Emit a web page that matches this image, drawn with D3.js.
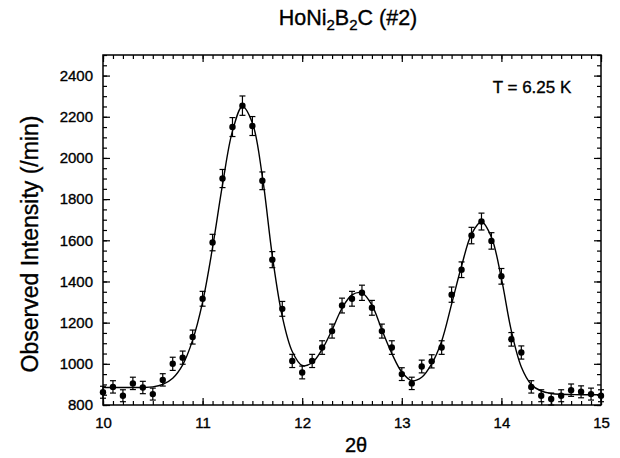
<!DOCTYPE html>
<html>
<head>
<meta charset="utf-8">
<script src="https://cdn.jsdelivr.net/npm/d3@7"></script>
<style>
  body { margin: 0; background: #fff; }
  svg { font-family: "Liberation Sans", Arial, Helvetica, sans-serif; }
  svg text { fill: #000; stroke: #000; stroke-width: 0.35px; }
  .axis text { font-size: 15px; }
  .axis line { stroke: #000; stroke-width: 1.2; }
</style>
</head>
<body>
<svg id="chart" width="620" height="458"></svg>
<script>
// measured 2-theta positions
var twoTheta = [10.0, 10.1, 10.2, 10.3, 10.4, 10.5, 10.6, 10.7, 10.8, 10.9,
  11.0, 11.1, 11.2, 11.3, 11.4, 11.5, 11.6, 11.7, 11.8, 11.9,
  12.0, 12.1, 12.2, 12.3, 12.4, 12.5, 12.6, 12.7, 12.8, 12.9,
  13.0, 13.1, 13.2, 13.3, 13.4, 13.5, 13.6, 13.7, 13.8, 13.9,
  14.0, 14.1, 14.2, 14.3, 14.4, 14.5, 14.6, 14.7, 14.8, 14.9, 15.0];
// observed intensity (/min)
var observed = [862, 888, 845, 905, 885, 853, 922, 1000, 1030, 1130,
  1316, 1589, 1900, 2150, 2254, 2155, 1889, 1506, 1267, 1014,
  958, 1014, 1079, 1159, 1283, 1316, 1345, 1272, 1159, 1079,
  950, 905, 987, 1012, 1079, 1336, 1457, 1623, 1691, 1597,
  1425, 1119, 1055, 888, 845, 829, 845, 872, 864, 853, 845];
// error bar half heights
var errors = [29, 30, 29, 30, 30, 29, 30, 32, 32, 34,
  36, 40, 44, 46, 47, 46, 43, 39, 36, 32,
  31, 32, 33, 34, 36, 36, 37, 36, 34, 33,
  31, 30, 31, 32, 33, 37, 38, 40, 41, 40,
  38, 33, 32, 30, 29, 29, 29, 30, 29, 29, 29];
// fitted curve, read at the same 2-theta positions
var fitted = [885, 885, 885, 885, 885, 888, 900, 930, 995, 1115,
  1300, 1565, 1870, 2130, 2250, 2170, 1910, 1525, 1230, 1060,
  992, 1005, 1070, 1165, 1270, 1335, 1345, 1285, 1165, 1050,
  960, 918, 935, 1000, 1110, 1290, 1475, 1630, 1690, 1615,
  1415, 1160, 985, 900, 868, 856, 852, 851, 850, 850, 850];

var xTicks = [10, 11, 12, 13, 14, 15];
var yTicks = [800, 1000, 1200, 1400, 1600, 1800, 2000, 2200, 2400];

var svg = d3.select("#chart");
var pL = 103, pR = 601, pT = 55, pB = 405;

var x = d3.scaleLinear().domain([10, 15]).range([pL, pR]);
var y = d3.scaleLinear().domain([800, 2500]).range([pB, pT]);

var xMinor = d3.range(100, 151).map(function(d) { return d / 10; });
var yMinor = d3.range(800, 2501, 50);

// minor ticks, all four sides, pointing in
svg.append("g").attr("class", "axis")
  .attr("transform", "translate(0," + pB + ")")
  .call(d3.axisBottom(x).tickValues(xMinor).tickSize(-4).tickFormat(""));
svg.append("g").attr("class", "axis")
  .attr("transform", "translate(0," + pT + ")")
  .call(d3.axisTop(x).tickValues(xMinor).tickSize(-4).tickFormat(""));
svg.append("g").attr("class", "axis")
  .attr("transform", "translate(" + pL + ",0)")
  .call(d3.axisLeft(y).tickValues(yMinor).tickSize(-4).tickFormat(""));
svg.append("g").attr("class", "axis")
  .attr("transform", "translate(" + pR + ",0)")
  .call(d3.axisRight(y).tickValues(yMinor).tickSize(-4).tickFormat(""));

// major ticks
svg.append("g").attr("class", "axis")
  .attr("transform", "translate(0," + pB + ")")
  .call(d3.axisBottom(x).tickValues(xTicks).tickSize(-7).tickPadding(12).tickFormat(d3.format("d")));
svg.append("g").attr("class", "axis")
  .attr("transform", "translate(0," + pT + ")")
  .call(d3.axisTop(x).tickValues(xTicks).tickSize(-7).tickFormat(""));
svg.append("g").attr("class", "axis")
  .attr("transform", "translate(" + pL + ",0)")
  .call(d3.axisLeft(y).tickValues(yTicks).tickSize(-7).tickPadding(10).tickFormat(d3.format("d")));
svg.append("g").attr("class", "axis")
  .attr("transform", "translate(" + pR + ",0)")
  .call(d3.axisRight(y).tickValues(yTicks).tickSize(-7).tickFormat(""));

svg.selectAll(".axis .domain").remove();

svg.append("rect")
  .attr("x", pL).attr("y", pT)
  .attr("width", pR - pL).attr("height", pB - pT)
  .attr("fill", "none").attr("stroke", "#000").attr("stroke-width", 1.5);

// fit curve
var line = d3.line()
  .x(function(d, i) { return x(twoTheta[i]); })
  .y(function(d) { return y(d); })
  .curve(d3.curveCatmullRom.alpha(0.5));

svg.append("path")
  .datum(fitted)
  .attr("d", line)
  .attr("fill", "none")
  .attr("stroke", "#000")
  .attr("stroke-width", 1.4);

// data points with error bars
var pts = svg.append("g").selectAll("g")
  .data(observed)
  .enter().append("g");

pts.append("line")
  .attr("x1", function(d, i) { return x(twoTheta[i]); })
  .attr("x2", function(d, i) { return x(twoTheta[i]); })
  .attr("y1", function(d, i) { return y(d - errors[i]); })
  .attr("y2", function(d, i) { return y(d + errors[i]); })
  .attr("stroke", "#000").attr("stroke-width", 1.2);

[-1, 1].forEach(function(s) {
  pts.append("line")
    .attr("x1", function(d, i) { return x(twoTheta[i]) - 3; })
    .attr("x2", function(d, i) { return x(twoTheta[i]) + 3; })
    .attr("y1", function(d, i) { return y(d + s * errors[i]); })
    .attr("y2", function(d, i) { return y(d + s * errors[i]); })
    .attr("stroke", "#000").attr("stroke-width", 1.2);
});

pts.append("circle")
  .attr("cx", function(d, i) { return x(twoTheta[i]); })
  .attr("cy", function(d) { return y(d); })
  .attr("r", 3.2)
  .attr("fill", "#000");

// title
var title = svg.append("text")
  .attr("x", 348).attr("y", 25)
  .attr("text-anchor", "middle")
  .style("font-size", "21.5px");
title.append("tspan").text("HoNi");
title.append("tspan").attr("dy", 5).style("font-size", "15px").text("2");
title.append("tspan").attr("dy", -5).text("B");
title.append("tspan").attr("dy", 5).style("font-size", "15px").text("2");
title.append("tspan").attr("dy", -5).text("C (#2)");

svg.append("text")
  .attr("x", 532).attr("y", 93)
  .attr("text-anchor", "middle")
  .style("font-size", "17px")
  .text("T = 6.25 K");

svg.append("text")
  .attr("transform", "translate(38," + ((pT + pB) / 2 + 14) + ") rotate(-90)")
  .attr("text-anchor", "middle")
  .style("font-size", "23px")
  .text("Observed Intensity (/min)");

svg.append("text")
  .attr("x", 356).attr("y", 452)
  .attr("text-anchor", "middle")
  .style("font-size", "20px")
  .text("2θ");
</script>
</body>
</html>
